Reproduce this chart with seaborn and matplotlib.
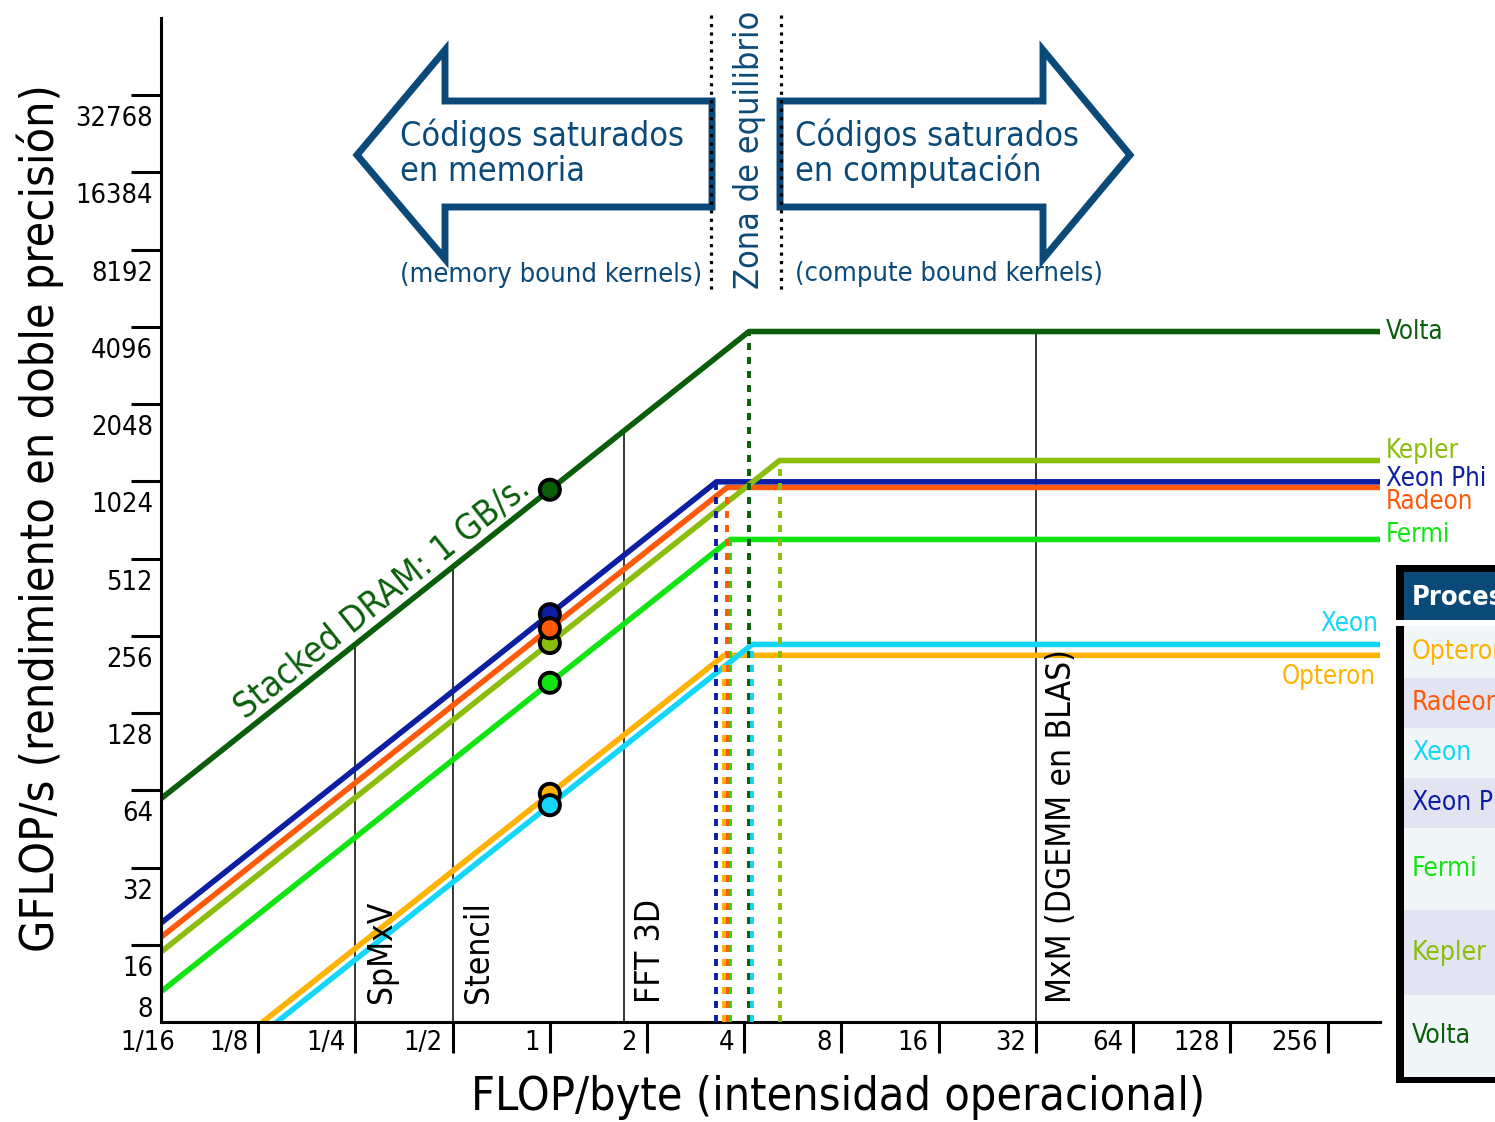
import numpy as np
import pandas as pd
import matplotlib
matplotlib.use('Agg')
import matplotlib.pyplot as plt
import matplotlib.patches as mpatches
from matplotlib.transforms import offset_copy, blended_transform_factory
import seaborn as sns

# roofline data
devices = ['Volta', 'Fermi', 'Radeon', 'Xeon Phi', 'Kepler', 'Opteron', 'Xeon']
colors = ['#0a5e0a', '#12e312', '#ff5a0c', '#0c1ea2', '#8abd0c', '#ffb200', '#14d6f8']
bandwidth = [950, 168, 274, 311, 240, 62, 56]      # GB/s
peak = [3930, 608, 970, 1020, 1235, 215, 237]      # GFLOP/s
dot_order = ['Volta', 'Fermi', 'Kepler', 'Xeon Phi', 'Radeon', 'Opteron', 'Xeon']

kernels = ['SpMxV', 'Stencil', 'FFT 3D', 'MxM (DGEMM en BLAS)']
kernel_intensity = [0.25, 0.5, 1.7, 32]

x_ticks = [2.0 ** k for k in range(-4, 9)]
x_labels = ['1/16', '1/8', '1/4', '1/2', '1', '2', '4', '8', '16', '32', '64', '128', '256']
y_ticks = [2 ** k for k in range(3, 16)]
y_labels = [str(v) for v in y_ticks]

table_rows = ['Opteron', 'Radeon', 'Xeon', 'Xeon Phi', 'Fermi', 'Kepler', 'Volta']

cmap = dict(zip(devices, colors))
BLUE = '#0b4a78'

sns.set_style('white')
plt.rcParams['font.family'] = ['DejaVu Sans']
plt.rcParams['font.stretch'] = 'condensed'
plt.rcParams['text.color'] = 'black'

W, H = 1495, 1122
fig = plt.figure(figsize=(W / 100, H / 100), dpi=100)
ax = fig.add_axes([161 / W, 1 - 1022 / H, (1380 - 161) / W, (1022 - 18) / H])
ax.set_xscale('log', base=2)
ax.set_yscale('log', base=2)
ax.set_xlim(1 / 16, 2 ** 8.54)
ax.set_ylim(8, 65536)
ax.patch.set_visible(False)
x_end = ax.get_xlim()[1]

# rooflines
rows = []
for name, bw, pk in zip(devices, bandwidth, peak):
    for x in (1 / 16, pk / bw, x_end):
        rows.append((name, x, min(bw * x, pk)))
roof = pd.DataFrame(rows, columns=['device', 'I', 'gflops'])
sns.lineplot(data=roof, x='I', y='gflops', hue='device', hue_order=devices,
             palette=colors, linewidth=4.0, legend=False, ax=ax,
             sort=False, estimator=None, zorder=2)

# dashed lines at the ridge points
for name, bw, pk in zip(devices, bandwidth, peak):
    ax.plot([pk / bw, pk / bw], [8, pk], color=cmap[name], lw=2.8,
            ls=(0, (1.8, 1.8)), zorder=3)

# kernel lines up to the Volta roof
kx = np.array(kernel_intensity)
ktop = np.minimum(bandwidth[0] * kx, peak[0])
ax.vlines(kx, 8, ktop, colors='black', lw=1.1, zorder=1.5)
for k, x in zip(kernels, kernel_intensity):
    ax.text(x, 8, k, rotation=90, ha='center', va='bottom', fontsize=24,
            transform=offset_copy(ax.transData, fig=fig, x=26, y=19, units='dots'))

# points at intensity 1
dots = pd.DataFrame({'device': dot_order,
                     'I': 1.0,
                     'gflops': [min(bandwidth[devices.index(d)], peak[devices.index(d)]) for d in dot_order]})
sns.scatterplot(data=dots, x='I', y='gflops', hue='device', hue_order=dot_order,
                palette=[cmap[d] for d in dot_order], s=210, edgecolor='black',
                linewidth=2.8, legend=False, ax=ax, zorder=5, clip_on=False)

# label along the Volta bandwidth line
p1 = ax.transData.transform((0.125, bandwidth[0] * 0.125))
p2 = ax.transData.transform((1.0, bandwidth[0] * 1.0))
ang = np.degrees(np.arctan2(p2[1] - p1[1], p2[0] - p1[0]))
xi = 0.33
d = 20
ax.text(xi, bandwidth[0] * xi, 'Stacked DRAM: 1 GB/s.', color=colors[0], fontsize=25.5,
        rotation=ang, rotation_mode='anchor', ha='center', va='center',
        transform=offset_copy(ax.transData, fig=fig, x=-np.sin(np.radians(ang)) * d,
                              y=np.cos(np.radians(ang)) * d, units='dots'))

# device labels at the right end
label_offset = {'Volta': (6, 0, 'left'), 'Kepler': (6, 10, 'left'),
                'Xeon Phi': (6, 3, 'left'), 'Radeon': (6, -15, 'left'),
                'Fermi': (6, 4, 'left'), 'Xeon': (-2, 20, 'right'),
                'Opteron': (-4, -22, 'right')}
for name, pk in zip(devices, peak):
    dx, dy, ha = label_offset[name]
    ax.text(x_end, pk, name, color=cmap[name], fontsize=18.5, ha=ha, va='center',
            clip_on=False,
            transform=offset_copy(ax.transData, fig=fig, x=dx, y=dy, units='dots'))

# axes styling
for s in ['top', 'right']:
    ax.spines[s].set_visible(False)
for s in ['left', 'bottom']:
    ax.spines[s].set_linewidth(2.2)
    ax.spines[s].set_color('black')
ax.set_xticks(x_ticks[1:])
ax.set_yticks(y_ticks[1:])
ax.xaxis.set_minor_locator(matplotlib.ticker.NullLocator())
ax.yaxis.set_minor_locator(matplotlib.ticker.NullLocator())
ax.set_xticklabels([])
ax.set_yticklabels([])
ax.tick_params(axis='x', direction='out', length=22.3, width=2.2, color='black', bottom=True)
ax.tick_params(axis='y', direction='out', length=21.6, width=2.2, color='black', left=True)
ax.set_xlabel('')
ax.set_ylabel('')

ytr = blended_transform_factory(ax.transAxes, ax.transData)
for v, lab in zip(y_ticks, y_labels):
    dy = 12 if v == 8 else -24
    ax.text(0, v, lab, ha='right', va='center', fontsize=19.5, clip_on=False,
            transform=offset_copy(ytr, fig=fig, x=-8, y=dy, units='dots'))
xtr = blended_transform_factory(ax.transData, ax.transAxes)
for v, lab in zip(x_ticks, x_labels):
    dx = 14 if v == 1 / 16 else -10
    ax.text(v, 0, lab, ha='right', va='center', fontsize=19.5, clip_on=False,
            transform=offset_copy(xtr, fig=fig, x=dx, y=-21, units='dots'))

fig.text(40 / W, 1 - 518 / H, 'GFLOP/s (rendimiento en doble precisión)', rotation=90,
         ha='center', va='center', fontsize=33.5)
fig.text(838 / W, 1 - 1098 / H, 'FLOP/byte (intensidad operacional)',
         ha='center', va='center', fontsize=33.5)

# overlay in pixel coordinates: arrows, zone and table
ov = fig.add_axes([0, 0, 1, 1])
ov.set_xlim(0, W)
ov.set_ylim(H, 0)
ov.axis('off')

left_arrow = [(357, 155), (445, 50), (445, 101), (712, 101), (712, 207), (445, 207), (445, 259)]
right_arrow = [(780, 101), (1043, 101), (1043, 50), (1130, 155), (1043, 259), (1043, 207), (780, 207)]
for pts in (left_arrow, right_arrow):
    ov.add_patch(mpatches.Polygon(pts, closed=True, fill=False, ec=BLUE, lw=5, joinstyle='miter'))
for x in (711, 781):
    ov.plot([x, x], [15, 290], color='black', lw=2.3, ls=':')

ov.text(400, 146, 'Códigos saturados', color=BLUE, fontsize=24.5, va='baseline')
ov.text(400, 181, 'en memoria', color=BLUE, fontsize=24.5, va='baseline')
ov.text(400, 282, '(memory bound kernels)', color=BLUE, fontsize=19.5, va='baseline')
ov.text(795, 146, 'Códigos saturados', color=BLUE, fontsize=24.5, va='baseline')
ov.text(795, 181, 'en computación', color=BLUE, fontsize=24.5, va='baseline')
ov.text(795, 281, '(compute bound kernels)', color=BLUE, fontsize=19.5, va='baseline')
ov.text(750, 289, 'Zona de equilibrio', color=BLUE, fontsize=24.5, rotation=90,
        ha='center', va='bottom')

# table (cut at the right edge)
ov.add_patch(mpatches.Rectangle((1396, 565), 110, 55, fc='black', ec='none'))
ov.add_patch(mpatches.Rectangle((1404, 572), 100, 48, fc=BLUE, ec='none'))
ov.add_patch(mpatches.Rectangle((1396, 626), 110, 457, fc='black', ec='none'))
row_edges = [626, 678, 728, 778, 828, 910, 995, 1077]
for i, name in enumerate(table_rows):
    y0, y1 = row_edges[i], row_edges[i + 1]
    bg = '#f1f6f9' if i % 2 == 0 else '#e2e4f2'
    ov.add_patch(mpatches.Rectangle((1404, y0), 100, y1 - y0, fc=bg, ec='none'))
    ov.text(1412, (y0 + y1) / 2, name, color=cmap[name], fontsize=19, va='center')
ov.text(1412, 598, 'Procesador', color='white', fontsize=19.5, fontweight='bold', va='center')

fig.savefig('out.png', dpi=100)
